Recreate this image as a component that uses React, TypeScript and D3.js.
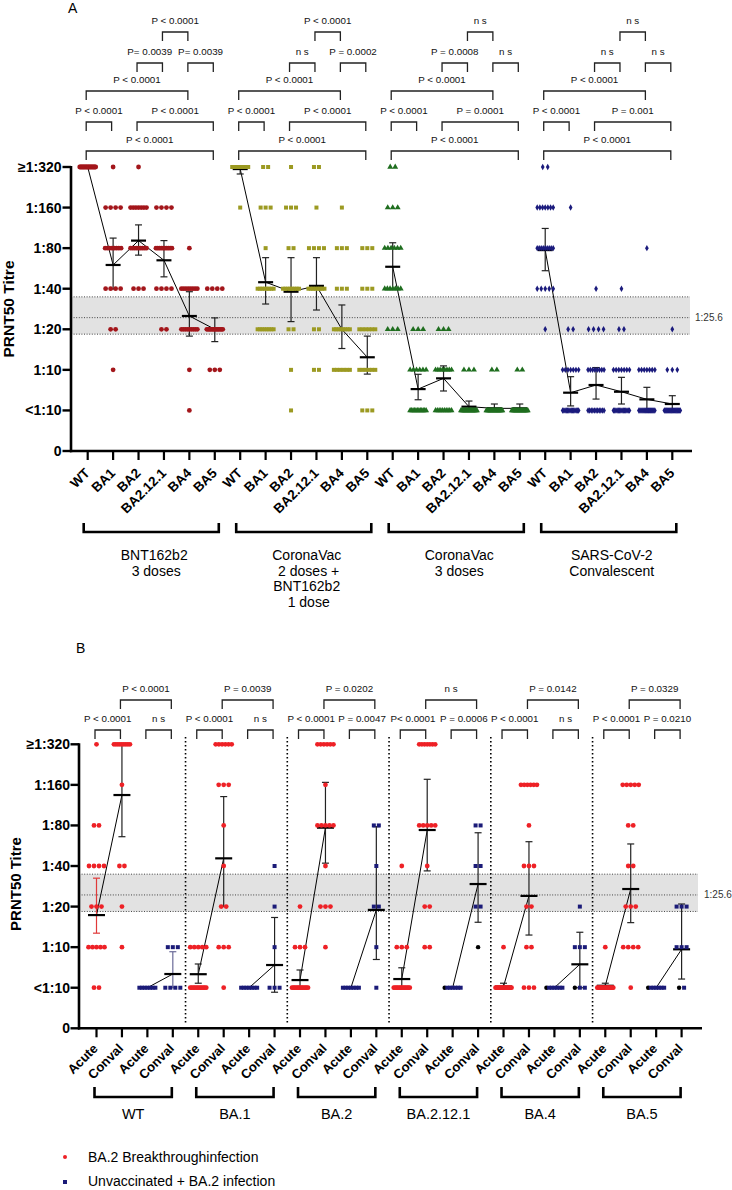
import React from "react";
import * as d3 from "d3";

// ---------- shared axis values ----------
const LEVELS = [320, 160, 80, 40, 20, 10, 5];
const Y_TICKS = [320, 160, 80, 40, 20, 10, 5, 2.5];
const Y_TICK_LABELS = ["≥1:320", "1:160", "1:80", "1:40", "1:20", "1:10", "<1:10", "0"];
const CUTOFF_LABEL = "1:25.6";
const CUTOFF_BAND = [18.4, 24.4, 34.8]; // lower edge, dotted line, upper edge

// ---------- Panel A ----------
const variantsA = ["WT", "BA1", "BA2", "BA2.12.1", "BA4", "BA5"];
const cohortLabelsA = [
  ["BNT162b2", " 3 doses"],
  ["CoronaVac", " 2 doses +", "BNT162b2", " 1 dose"],
  ["CoronaVac", "3 doses"],
  ["SARS-CoV-2", "Convalescent"],
];
// counts of subjects at each level (320,160,80,40,20,10,<10) per variant
const countsBNT = [
  [20, 0, 0, 0, 0, 0, 0],
  [1, 4, 8, 4, 2, 1, 0],
  [1, 7, 9, 3, 0, 0, 0],
  [0, 4, 10, 4, 2, 0, 0],
  [0, 0, 1, 8, 9, 1, 1],
  [0, 0, 0, 4, 13, 3, 0],
];
const gmtBNT = [320, 60, 91, 65, 25.1, 20];
const loBNT = [320, 39.8, 71, 49, 17.8, 16.2];
const hiBNT = [320, 95, 119, 91, 38, 24.3];

const countsCVB = [
  [20, 1, 0, 0, 0, 0, 0],
  [2, 3, 1, 8, 8, 0, 0],
  [1, 3, 2, 8, 2, 1, 1],
  [2, 1, 4, 8, 2, 2, 0],
  [0, 1, 3, 3, 8, 6, 0],
  [0, 0, 3, 3, 6, 6, 3],
];
const gmtCVB = [309, 44.7, 38, 42, 20, 12.4];
const loCVB = [284, 30.8, 22.8, 27.8, 14.4, 9.3];
const hiCVB = [320, 68, 68, 68, 30.3, 17.8];

const countsCV3 = [
  [2, 3, 6, 7, 3, 0, 0],
  [0, 0, 0, 0, 3, 6, 12],
  [0, 0, 0, 0, 3, 8, 10],
  [0, 0, 0, 0, 0, 3, 18],
  [0, 0, 0, 0, 0, 2, 19],
  [0, 0, 0, 0, 0, 2, 19],
];
const gmtCV3 = [58.2, 7.2, 8.65, 5.33, 5.18, 5.18];
const loCV3 = [39.6, 6.0, 6.97, 5, 5, 5];
const hiCV3 = [87.7, 9.27, 10.7, 5.87, 5.58, 5.58];

const countsConv = [
  [2, 7, 9, 5, 1, 0, 0],
  [0, 1, 0, 0, 2, 7, 14],
  [0, 0, 0, 1, 4, 8, 11],
  [0, 0, 0, 1, 2, 7, 14],
  [0, 0, 1, 0, 0, 7, 16],
  [0, 0, 0, 0, 1, 3, 20],
];
const gmtConv = [77.4, 6.77, 7.72, 6.88, 6.04, 5.58];
const loConv = [54.4, 5.4, 6.07, 5.58, 4.9, 4.9];
const hiConv = [112, 8.9, 10.4, 8.8, 7.42, 6.43];

// [cohort, fromVariant, toVariant, row, label]
const sigA: [number, number, number, number, string][] = [
  [0, 0, 5, 0, "P < 0.0001"], [0, 0, 1, 1, "P < 0.0001"], [0, 2, 5, 1, "P < 0.0001"],
  [0, 0, 4, 2, "P < 0.0001"], [0, 2, 3, 3, "P= 0.0039"], [0, 4, 5, 3, "P= 0.0039"],
  [0, 3, 4, 4, "P < 0.0001"],
  [1, 0, 5, 0, "P < 0.0001"], [1, 0, 1, 1, "P < 0.0001"], [1, 2, 5, 1, "P < 0.0001"],
  [1, 0, 4, 2, "P < 0.0001"], [1, 2, 3, 3, "n s"], [1, 4, 5, 3, "P = 0.0002"],
  [1, 3, 4, 4, "P < 0.0001"],
  [2, 0, 5, 0, "P < 0.0001"], [2, 0, 1, 1, "P < 0.0001"], [2, 2, 5, 1, "P = 0.0001"],
  [2, 0, 4, 2, "P < 0.0001"], [2, 2, 3, 3, "P = 0.0008"], [2, 4, 5, 3, "n s"],
  [2, 3, 4, 4, "n s"],
  [3, 0, 5, 0, "P < 0.0001"], [3, 0, 1, 1, "P < 0.0001"], [3, 2, 5, 1, "P = 0.001"],
  [3, 0, 4, 2, "P < 0.0001"], [3, 2, 3, 3, "n s"], [3, 4, 5, 3, "n s"],
  [3, 3, 4, 4, "n s"],
];

// ---------- Panel B ----------
const variantsB = ["WT", "BA.1", "BA.2", "BA.2.12.1", "BA.4", "BA.5"];
const timepointsB = ["Acute", "Conval", "Acute", "Conval"];
const legendB = ["BA.2 Breakthroughinfection", "Unvaccinated + BA.2 infection"];

const btAcute = [
  [1, 0, 2, 4, 3, 5, 2],
  [0, 0, 0, 0, 0, 5, 12],
  [0, 0, 0, 0, 1, 3, 13],
  [0, 0, 0, 1, 0, 3, 13],
  [0, 0, 0, 0, 0, 1, 16],
  [0, 0, 0, 0, 0, 1, 16],
];
const btConval = [
  [9, 1, 0, 2, 1, 1, 0],
  [6, 3, 1, 1, 2, 3, 1],
  [6, 1, 5, 1, 3, 1, 0],
  [7, 0, 5, 1, 2, 2, 0],
  [0, 6, 1, 3, 2, 2, 3],
  [0, 5, 2, 2, 3, 4, 1],
];
const uvAcute = [
  [0, 0, 0, 0, 0, 0, 7],
  [0, 0, 0, 0, 0, 0, 7],
  [0, 0, 0, 0, 0, 0, 7],
  [0, 0, 0, 0, 0, 0, 6],
  [0, 0, 0, 0, 0, 0, 6],
  [0, 0, 0, 0, 0, 0, 6],
];
const uvConval = [
  [0, 0, 0, 0, 0, 3, 4],
  [0, 0, 0, 1, 1, 1, 3],
  [0, 0, 2, 1, 2, 1, 1],
  [0, 0, 2, 2, 2, 0, 0],
  [0, 0, 0, 0, 1, 3, 2],
  [0, 0, 0, 0, 3, 3, 1],
];
// black-marked subjects in the unvaccinated group
const otherAcute = [
  [0, 0, 0, 0, 0, 0, 0],
  [0, 0, 0, 0, 0, 0, 0],
  [0, 0, 0, 0, 0, 0, 0],
  [0, 0, 0, 0, 0, 0, 1],
  [0, 0, 0, 0, 0, 0, 1],
  [0, 0, 0, 0, 0, 0, 1],
];
const otherConval = [
  [0, 0, 0, 0, 0, 0, 0],
  [0, 0, 0, 0, 0, 0, 0],
  [0, 0, 0, 0, 0, 0, 0],
  [0, 0, 0, 0, 0, 1, 0],
  [0, 0, 0, 0, 0, 0, 1],
  [0, 0, 0, 0, 0, 0, 1],
];
const gmtBtAcute = [17.3, 6.3, 5.7, 5.8, 5.1, 5.17];
const loBtAcute = [12.7, 5.4, 5, 5, 5, 5];
const hiBtAcute = [32.5, 7.5, 6.77, 7.03, 5.4, 5.4];
const gmtBtConval = [134.5, 45.6, 77, 74, 24, 27];
const loBtConval = [66, 20, 42, 36.8, 12.3, 15.2];
const hiBtConval = [320, 131, 167, 176, 60.6, 58.3];
const gmtUvAcute = [5, 5, 5, 5, 5, 5];
const gmtUvConval = [6.32, 7.37, 18.9, 29.4, 7.46, 9.64];
const loUvConval = [5, 4.63, 8.1, 15.3, 5, 5.8];
const hiUvConval = [9.25, 16.6, 78.3, 70.6, 12.9, 20.9];

// [fromCol, toCol, row, label]
const sigB: [number, number, number, string][] = [
  [0, 1, 0, "P < 0.0001"], [2, 3, 0, "n s"], [1, 3, 1, "P < 0.0001"],
  [4, 5, 0, "P < 0.0001"], [6, 7, 0, "n s"], [5, 7, 1, "P = 0.0039"],
  [8, 9, 0, "P < 0.0001"], [10, 11, 0, "P = 0.0047"], [9, 11, 1, "P = 0.0202"],
  [12, 13, 0, "P< 0.0001"], [14, 15, 0, "P = 0.0006"], [13, 15, 1, "n s"],
  [16, 17, 0, "P < 0.0001"], [18, 19, 0, "n s"], [17, 19, 1, "P = 0.0142"],
  [20, 21, 0, "P < 0.0001"], [22, 23, 0, "P = 0.0210"], [21, 23, 1, "P = 0.0329"],
];

// ---------- styling ----------
const FONT = "Arial, 'Liberation Sans', Helvetica, sans-serif";
const COL_A = ["#a3161b", "#9c9a22", "#1f6e1f", "#1b1b7d"];
const RED_B = "#ee2126";
const BLUE_B = "#1b1b78";

const symCircle = d3.symbol().type(d3.symbolCircle).size(18)() as string;
const symSquare = d3.symbol().type(d3.symbolSquare).size(16)() as string;
const symTriangle = d3.symbol().type(d3.symbolTriangle).size(15)() as string;
const symDiamond = d3.symbol().type(d3.symbolDiamond).size(12)() as string;
const SYM_A = [symCircle, symSquare, symTriangle, symDiamond];

function rowXs(cx: number, n: number): number[] {
  if (n <= 0) return [];
  const s = n > 1 ? Math.min(5, 16 / (n - 1)) : 0;
  return d3.range(n).map((i) => cx + (i - (n - 1) / 2) * s);
}

function YAxis({ y, x, labelX }: { y: any; x: number; labelX: number }) {
  return (
    <g>
      <line x1={x} x2={x} y1={y(320) - 1} y2={y(2.5) + 1.2} stroke="#000" strokeWidth={2.6} />
      {Y_TICKS.map((t, i) => (
        <g key={i}>
          <line x1={x - 8.5} x2={x} y1={y(t)} y2={y(t)} stroke="#000" strokeWidth={2.4} />
          <text x={labelX} y={y(t) + 5} textAnchor="end" fontSize={14} fontWeight="bold">
            {Y_TICK_LABELS[i]}
          </text>
        </g>
      ))}
    </g>
  );
}

function Band({ y, x1, x2, labelX }: { y: any; x1: number; x2: number; labelX: number }) {
  const [lo, mid, hi] = CUTOFF_BAND;
  return (
    <g>
      <rect x={x1} width={x2 - x1} y={y(hi)} height={y(lo) - y(hi)} fill="#e2e2e2" />
      {[lo, mid, hi].map((v, i) => (
        <line key={i} x1={x1} x2={x2} y1={y(v)} y2={y(v)} stroke="#444" strokeWidth={1} strokeDasharray="1 1.6" />
      ))}
      <text x={labelX} y={y(mid) + 3.5} fontSize={10} fill="#333">{CUTOFF_LABEL}</text>
    </g>
  );
}

function SigBracket({ x1, x2, yLine, label }: { x1: number; x2: number; yLine: number; label: string }) {
  return (
    <g>
      <path d={`M${x1},${yLine + 9}V${yLine}H${x2}V${yLine + 9}`} fill="none" stroke="#222" strokeWidth={1.3} />
      <text x={(x1 + x2) / 2} y={yLine - 8.5} textAnchor="middle" fontSize={9.8} fill="#111">
        {label}
      </text>
    </g>
  );
}

function ErrMean({ cx, y, gmt, lo, hi, w, color }: any) {
  const collapsed = Math.abs(hi - lo) < 1e-6;
  return (
    <g>
      {!collapsed && (
        <g stroke={color} strokeWidth={1.2}>
          <line x1={cx} x2={cx} y1={y(hi)} y2={y(lo)} />
          <line x1={cx - 3.5} x2={cx + 3.5} y1={y(hi)} y2={y(hi)} />
          <line x1={cx - 3.5} x2={cx + 3.5} y1={y(lo)} y2={y(lo)} />
        </g>
      )}
      <line x1={cx - w / 2} x2={cx + w / 2} y1={y(gmt)} y2={y(gmt)} stroke="#000" strokeWidth={2.2} />
    </g>
  );
}

export default function App() {
  const xA = d3.scalePoint<number>().domain(d3.range(24)).range([87.7, 672.3]);
  const yA = d3.scaleLog().base(2).domain([2.5, 320]).range([451, 167]);
  const xB = d3.scalePoint<number>().domain(d3.range(24)).range([96.5, 681.6]);
  const yB = d3.scaleLog().base(2).domain([2.5, 320]).range([1028.3, 744.3]);

  const countsA = [countsBNT, countsCVB, countsCV3, countsConv];
  const gmtA = [gmtBNT, gmtCVB, gmtCV3, gmtConv];
  const loA = [loBNT, loCVB, loCV3, loConv];
  const hiA = [hiBNT, hiCVB, hiCV3, hiConv];
  const sigRowYA = [151, 122, 91, 63, 32];
  const sigRowYB = [730, 700];
  const axisYA = yA(2.5);
  const axisYB = yB(2.5);
  const lineGen = d3.line<[number, number]>();

  // Panel B columns: per variant, 4 columns
  const colsB = variantsB.flatMap((_, v) => [
    { col: v * 4, counts: btAcute[v], other: null, color: RED_B, sym: symCircle, gmt: gmtBtAcute[v], lo: loBtAcute[v], hi: hiBtAcute[v], err: v === 0 ? "#e03a3a" : "#222" },
    { col: v * 4 + 1, counts: btConval[v], other: null, color: RED_B, sym: symCircle, gmt: gmtBtConval[v], lo: loBtConval[v], hi: hiBtConval[v], err: "#222" },
    { col: v * 4 + 2, counts: uvAcute[v], other: otherAcute[v], color: BLUE_B, sym: symSquare, gmt: gmtUvAcute[v], lo: gmtUvAcute[v], hi: gmtUvAcute[v], err: "#222" },
    { col: v * 4 + 3, counts: uvConval[v], other: otherConval[v], color: BLUE_B, sym: symSquare, gmt: gmtUvConval[v], lo: loUvConval[v], hi: hiUvConval[v], err: v === 0 ? "#6a6a98" : "#222" },
  ]);

  return (
    <svg width={732} height={1190} style={{ position: "absolute", left: 0, top: 0, fontFamily: FONT, background: "#fff" }}>
      {/* ================= Panel A ================= */}
      <text x={68} y={13} fontSize={14}>A</text>
      <Band y={yA} x1={71} x2={690} labelX={695} />

      {/* means, error bars, connecting lines */}
      {countsA.map((_, g) => (
        <g key={"m" + g}>
          <path
            d={lineGen(variantsA.map((__, v) => [xA(g * 6 + v)!, yA(gmtA[g][v])]))!}
            fill="none" stroke="#000" strokeWidth={1}
          />
          {variantsA.map((__, v) => (
            <ErrMean key={v} cx={xA(g * 6 + v)} y={yA} gmt={gmtA[g][v]} lo={loA[g][v]} hi={hiA[g][v]} w={15} color="#222" />
          ))}
        </g>
      ))}

      {/* points */}
      {countsA.map((counts, g) =>
        counts.map((col, v) =>
          col.map((n, li) =>
            rowXs(xA(g * 6 + v)!, n).map((px, k) => (
              <path key={`${g}-${v}-${li}-${k}`} d={SYM_A[g]} transform={`translate(${px},${yA(LEVELS[li])})`} fill={COL_A[g]} />
            ))
          )
        )
      )}

      <YAxis y={yA} x={71} labelX={61.5} />
      <text transform={`translate(14,309) rotate(-90)`} textAnchor="middle" fontSize={15.5} fontWeight="bold">PRNT50 Titre</text>

      {/* x axis A */}
      <line x1={70} x2={692} y1={axisYA} y2={axisYA} stroke="#000" strokeWidth={2.6} />
      {d3.range(24).map((i) => (
        <g key={"ta" + i}>
          <line x1={xA(i)} x2={xA(i)} y1={axisYA} y2={axisYA + 9} stroke="#000" strokeWidth={2.2} />
          <text transform={`translate(${xA(i)! + 3},${axisYA + 23}) rotate(-45)`} textAnchor="end" fontSize={13.5} fontWeight="bold">
            {variantsA[i % 6]}
          </text>
        </g>
      ))}

      {/* cohort brackets A */}
      {cohortLabelsA.map((lines, g) => {
        const x1 = xA(g * 6)! - 4;
        const x2 = xA(g * 6 + 5)! + 4;
        return (
          <g key={"ca" + g}>
            <path d={`M${x1},523V532H${x2}V523`} fill="none" stroke="#000" strokeWidth={2.6} />
            {lines.map((l, j) => (
              <text key={j} x={(x1 + x2) / 2 + 3} y={560 + j * 15.5} textAnchor="middle" fontSize={14} style={{ whiteSpace: "pre" }}>
                {l}
              </text>
            ))}
          </g>
        );
      })}

      {/* significance A */}
      {sigA.map(([g, a, b, row, label], i) => (
        <SigBracket key={"sa" + i} x1={xA(g * 6 + a)! - 1.5} x2={xA(g * 6 + b)! - 1.5} yLine={sigRowYA[row]} label={label} />
      ))}

      {/* ================= Panel B ================= */}
      <text x={76} y={653} fontSize={14}>B</text>
      <Band y={yB} x1={79} x2={698} labelX={704} />

      {/* dotted separators */}
      {d3.range(1, 6).map((k) => {
        const xs = (xB(k * 4 - 1)! + xB(k * 4)!) / 2;
        return <line key={"sep" + k} x1={xs} x2={xs} y1={737} y2={1023} stroke="#000" strokeWidth={1.6} strokeDasharray="1.6 2.4" />;
      })}

      {/* connecting lines B */}
      {variantsB.map((_, v) => (
        <g key={"lb" + v}>
          <path d={lineGen([[xB(v * 4)!, yB(gmtBtAcute[v])], [xB(v * 4 + 1)!, yB(gmtBtConval[v])]])!} stroke="#000" strokeWidth={1} fill="none" />
          <path d={lineGen([[xB(v * 4 + 2)!, yB(gmtUvAcute[v])], [xB(v * 4 + 3)!, yB(gmtUvConval[v])]])!} stroke="#000" strokeWidth={1} fill="none" />
        </g>
      ))}

      {colsB.map((c) => (
        <ErrMean key={"eb" + c.col} cx={xB(c.col)} y={yB} gmt={c.gmt} lo={c.lo} hi={c.hi} w={17} color={c.err} />
      ))}

      {/* points B */}
      {colsB.map((c) =>
        LEVELS.map((lv, li) => {
          const nk = c.other ? c.other[li] : 0;
          const n = c.counts[li] + nk;
          return rowXs(xB(c.col)!, n).map((px, k) =>
            k < nk ? (
              <circle key={`b${c.col}-${li}-${k}`} cx={px} cy={yB(lv)} r={2.2} fill="#000" />
            ) : (
              <path key={`b${c.col}-${li}-${k}`} d={c.sym} transform={`translate(${px},${yB(lv)})`} fill={c.color} />
            )
          );
        })
      )}

      <YAxis y={yB} x={79} labelX={70} />
      <text transform={`translate(21,884) rotate(-90)`} textAnchor="middle" fontSize={15} fontWeight="bold">PRNT50 Titre</text>

      {/* x axis B */}
      <line x1={78} x2={702} y1={axisYB} y2={axisYB} stroke="#000" strokeWidth={2.6} />
      {d3.range(24).map((i) => (
        <g key={"tb" + i}>
          <line x1={xB(i)} x2={xB(i)} y1={axisYB} y2={axisYB + 9} stroke="#000" strokeWidth={2.2} />
          <text transform={`translate(${xB(i)! + 2},${axisYB + 21}) rotate(-45)`} textAnchor="end" fontSize={13} fontWeight="bold">
            {timepointsB[i % 4]}
          </text>
        </g>
      ))}

      {/* variant brackets B */}
      {variantsB.map((name, v) => {
        const x1 = xB(v * 4)! - 2;
        const x2 = xB(v * 4 + 3)! - 1;
        return (
          <g key={"vb" + v}>
            <path d={`M${x1},1087V1097H${x2}V1087`} fill="none" stroke="#000" strokeWidth={2.6} />
            <text x={(x1 + x2) / 2} y={1119} textAnchor="middle" fontSize={14.5}>{name}</text>
          </g>
        );
      })}

      {/* significance B */}
      {sigB.map(([a, b, row, label], i) => (
        <SigBracket key={"sb" + i} x1={xB(a)! - 1.5} x2={xB(b)! - 1.5} yLine={sigRowYB[row]} label={label} />
      ))}

      {/* legend */}
      <circle cx={65} cy={1157} r={2} fill={RED_B} />
      <text x={88} y={1162} fontSize={14}>{legendB[0]}</text>
      <path d={symSquare} transform="translate(65,1182)" fill={BLUE_B} />
      <text x={88} y={1186} fontSize={14}>{legendB[1]}</text>
    </svg>
  );
}
